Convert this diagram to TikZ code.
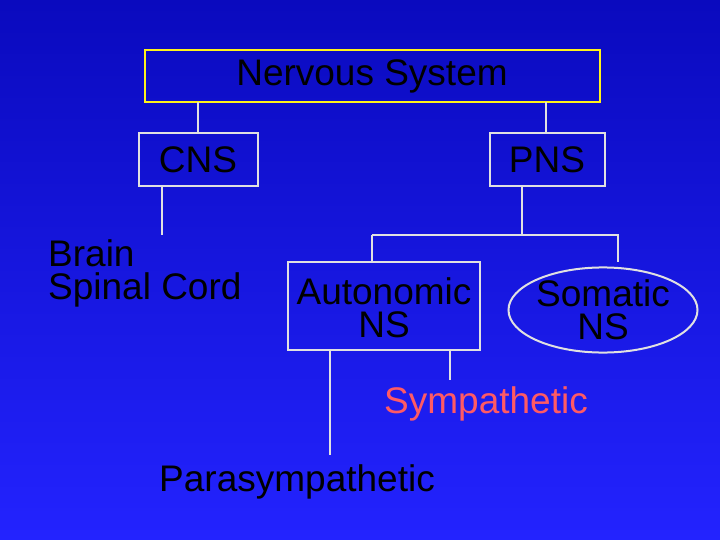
\documentclass[tikz,border=0pt]{standalone}
\usepackage{fontspec}
\setmainfont{Liberation Sans}
\usetikzlibrary{shapes.geometric}
\definecolor{bgtop}{RGB}{10,10,190}
\definecolor{bgbot}{RGB}{35,35,255}
\definecolor{link}{RGB}{225,225,225}
\definecolor{symp}{RGB}{255,90,100}
\begin{document}
\begin{tikzpicture}[x=1pt,y=-1pt]
    \tikzset{label/.style={font=\fontsize{37}{33}\selectfont, align=center, inner sep=0pt}}
    \tikzset{box/.style={draw=link, line width=2pt}}
    \tikzset{link/.style={draw=link, line width=2pt}}

    % background
    \shade[top color=bgtop, bottom color=bgbot] (0,0) rectangle (720,540);
    \useasboundingbox (0,0) rectangle (720,540);

    % boxes
    \draw[box, draw=yellow!90!white, line width=2.5pt] (145,50) rectangle (600,102);
    \node (ns) at (372,76) [label] {Nervous System};
    \draw[box] (139,133) rectangle (258,186);
    \node (cns) at (198,160) [label] {CNS};
    \draw[box] (490,133) rectangle (605,186);
    \node (pns) at (547,160) [label] {PNS};
    \draw[box] (288,262) rectangle (480,350);
    \node (auto) at (384,308) [label] {Autonomic\\NS};
    \node (soma) at (603,310) [label, draw=link, line width=2pt, ellipse,
        minimum width=182, minimum height=76, inner sep=0pt] {\phantom{Somatic}\\\phantom{NS}};
    \node (somatext) at (soma.center) [label] {Somatic\\NS};

    % leaves
    \node (brain) at (48,273) [label, anchor=west, align=left] {Brain\\Spinal Cord};
    \node (symp) at (486,404) [label, text=symp] {Sympathetic};
    \node (para) at (297,482) [label] {Parasympathetic};

    % connectors
    \coordinate (split) at (372,235);
    \draw[link] (198,102) -- (198,133);
    \draw[link] (546,102) -- (546,133);
    \draw[link] (162,186) -- (162,235);
    \draw[link] (522,186) -- (522,235);
    \draw[link] (split) -- (372,262);
    \draw[link] (split) -- (618,235) -- (618,262);
    \draw[link] (450,350) -- (450,380);
    \draw[link] (330,350) -- (330,455);
\end{tikzpicture}
\end{document}
